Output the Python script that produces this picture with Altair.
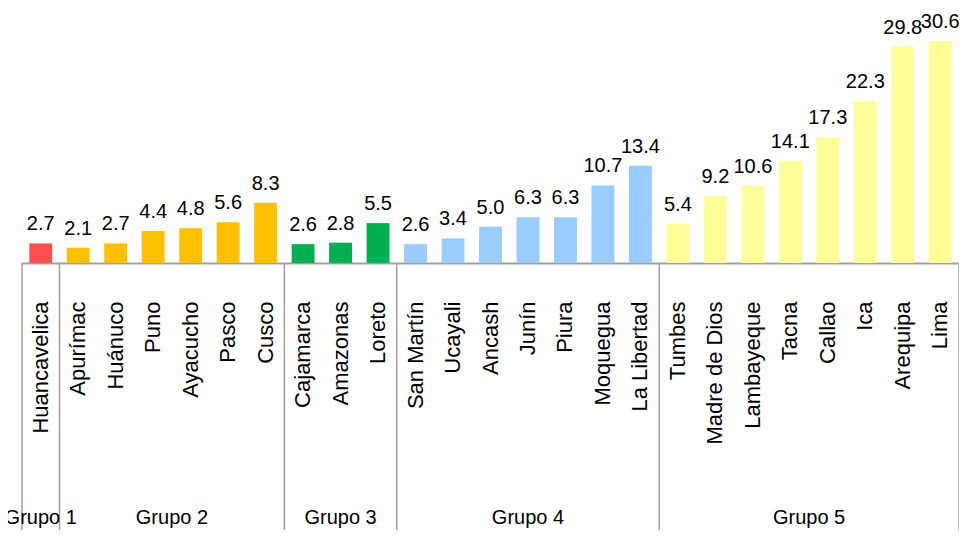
import altair as alt
import pandas as pd

groups = ["Grupo 1", "Grupo 2", "Grupo 3", "Grupo 4", "Grupo 5"]
group_regions = [
    ["Huancavelica"],
    ["Apurímac", "Huánuco", "Puno", "Ayacucho", "Pasco", "Cusco"],
    ["Cajamarca", "Amazonas", "Loreto"],
    ["San Martín", "Ucayali", "Ancash", "Junín", "Piura", "Moquegua", "La Libertad"],
    ["Tumbes", "Madre de Dios", "Lambayeque", "Tacna", "Callao", "Ica", "Arequipa", "Lima"],
]
group_values = [
    [2.7],
    [2.1, 2.7, 4.4, 4.8, 5.6, 8.3],
    [2.6, 2.8, 5.5],
    [2.6, 3.4, 5.0, 6.3, 6.3, 10.7, 13.4],
    [5.4, 9.2, 10.6, 14.1, 17.3, 22.3, 29.8, 30.6],
]
group_colors = ["#FF5050", "#FFC000", "#00B050", "#99CCFF", "#FFFF99"]

rows, seps, glabels = [], [0], []
i = 0
for g, regs, vals in zip(groups, group_regions, group_values):
    start = i
    for r, v in zip(regs, vals):
        rows.append({"region": r, "value": v, "group": g})
        i += 1
    glabels.append({"group": g, "pos": (start + i) / 2})
    seps.append(i)
n = i
df = pd.DataFrame(rows)
sep_df = pd.DataFrame({"pos": seps})
gl_df = pd.DataFrame(glabels)
order = list(df["region"])

W, H = 937, 255
FONT = "Liberation Sans, Arial"
GRAY = "#A0A0A0"

band_scale = alt.Scale(paddingInner=0.39, paddingOuter=0.195)
xband = alt.X("region:N", sort=order, scale=band_scale,
              axis=alt.Axis(title=None, labelAngle=270, labelAlign="right",
                            labelBaseline="middle", labelFont=FONT,
                            labelFontSize=22, labelColor="#000000",
                            labelPadding=38, ticks=False, domainColor=GRAY,
                            domainWidth=2, labelOverlap=False, labelLimit=300))
yq = alt.Y("value:Q", scale=alt.Scale(domain=[0, 35.15], nice=False), axis=None)

bars = alt.Chart(df).mark_bar().encode(
    x=xband, y=yq,
    color=alt.Color("group:N", scale=alt.Scale(domain=groups, range=group_colors), legend=None),
)
texts = alt.Chart(df).mark_text(baseline="alphabetic", dy=-13, font=FONT,
                                fontSize=20, color="#000000").encode(
    x=xband, y=yq,
    text=alt.Text("value:Q", format=".1f"),
)

xq = alt.X("pos:Q", scale=alt.Scale(domain=[0, n], nice=False, zero=False), axis=None)
rules = alt.Chart(sep_df).mark_rule(color=GRAY, strokeWidth=1.5).encode(
    x=xq, y=alt.value(H), y2=alt.value(H + 300))
glab = alt.Chart(gl_df).mark_text(baseline="middle", font=FONT, fontSize=20,
                                  color="#000000").encode(
    x=xq, y=alt.value(H + 255), text="group:N")

chart = alt.layer(alt.layer(bars, texts), alt.layer(rules, glab)).resolve_scale(
    x="independent"
).properties(
    width=W, height=H,
    autosize=alt.AutoSizeParams(type="none"),
    padding={"left": 14, "top": 0, "right": 0, "bottom": 267},
).configure_view(stroke=None)

chart.save("out.html", embed_options={"renderer": "svg", "actions": False})
